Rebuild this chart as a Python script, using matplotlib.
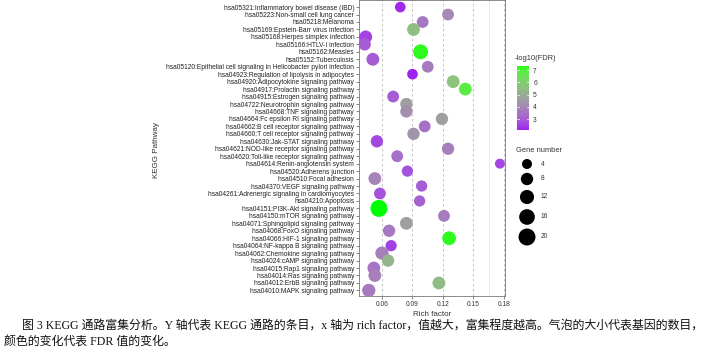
import numpy as np
import matplotlib
matplotlib.use("Agg")
import matplotlib.pyplot as plt
from matplotlib.colors import ListedColormap, Normalize

pathways = [
    "hsa05321:Inflammatory bowel disease (IBD)",
    "hsa05223:Non-small cell lung cancer",
    "hsa05218:Melanoma",
    "hsa05169:Epstein-Barr virus infection",
    "hsa05168:Herpes simplex infection",
    "hsa05166:HTLV-I infection",
    "hsa05162:Measles",
    "hsa05152:Tuberculosis",
    "hsa05120:Epithelial cell signaling in Helicobacter pylori infection",
    "hsa04923:Regulation of lipolysis in adipocytes",
    "hsa04920:Adipocytokine signaling pathway",
    "hsa04917:Prolactin signaling pathway",
    "hsa04915:Estrogen signaling pathway",
    "hsa04722:Neurotrophin signaling pathway",
    "hsa04668:TNF signaling pathway",
    "hsa04664:Fc epsilon RI signaling pathway",
    "hsa04662:B cell receptor signaling pathway",
    "hsa04660:T cell receptor signaling pathway",
    "hsa04630:Jak-STAT signaling pathway",
    "hsa04621:NOD-like receptor signaling pathway",
    "hsa04620:Toll-like receptor signaling pathway",
    "hsa04614:Renin-angiotensin system",
    "hsa04520:Adherens junction",
    "hsa04510:Focal adhesion",
    "hsa04370:VEGF signaling pathway",
    "hsa04261:Adrenergic signaling in cardiomyocytes",
    "hsa04210:Apoptosis",
    "hsa04151:PI3K-Akt signaling pathway",
    "hsa04150:mTOR signaling pathway",
    "hsa04071:Sphingolipid signaling pathway",
    "hsa04068:FoxO signaling pathway",
    "hsa04066:HIF-1 signaling pathway",
    "hsa04064:NF-kappa B signaling pathway",
    "hsa04062:Chemokine signaling pathway",
    "hsa04024:cAMP signaling pathway",
    "hsa04015:Rap1 signaling pathway",
    "hsa04014:Ras signaling pathway",
    "hsa04012:ErbB signaling pathway",
    "hsa04010:MAPK signaling pathway",
]

rich_factor = [0.078, 0.125, 0.100, 0.091, 0.044, 0.043, 0.098, 0.051, 0.105, 0.090,
               0.130, 0.142, 0.071, 0.084, 0.084, 0.119, 0.102, 0.091, 0.055, 0.125,
               0.075, 0.176, 0.085, 0.053, 0.099, 0.058, 0.097, 0.057, 0.121, 0.084,
               0.067, 0.126, 0.069, 0.060, 0.066, 0.052, 0.053, 0.116, 0.047]

gene_number = [5, 7, 7, 9, 9, 8, 14, 9, 7, 5,
               9, 9, 7, 8, 8, 8, 7, 8, 8, 8,
               7, 4, 6, 9, 6, 7, 6, 20, 7, 9,
               8, 11, 6, 10, 8, 9, 9, 9, 10]

neglog_fdr = [2.2, 4.0, 3.6, 5.5, 2.5, 3.0, 7.2, 3.0, 3.7, 2.1,
              5.6, 6.8, 3.0, 4.6, 4.2, 4.6, 3.4, 4.3, 2.6, 3.8,
              3.4, 2.6, 2.8, 3.9, 3.0, 2.8, 3.1, 7.35, 3.7, 4.6,
              3.6, 7.2, 2.5, 3.8, 5.2, 3.5, 3.8, 5.4, 3.7]

x_ticks = [0.06, 0.09, 0.12, 0.15, 0.18]
cbar_ticks = [3, 4, 5, 6, 7]
size_breaks = [4, 8, 12, 16, 20]

caption1 = "图 3 KEGG 通路富集分析。Y 轴代表 KEGG 通路的条目，x 轴为 rich factor，值越大，富集程度越高。气泡的大小代表基因的数目，"
caption2 = "颜色的变化代表 FDR 值的变化。"

# ---- Lab-space gradient (purple -> green), like ggplot's scale_colour_gradient
def _srgb_to_lab(rgb):
    rgb = np.asarray(rgb, float)
    lin = np.where(rgb <= 0.04045, rgb / 12.92, ((rgb + 0.055) / 1.055) ** 2.4)
    M = np.array([[0.4124, 0.3576, 0.1805], [0.2126, 0.7152, 0.0722], [0.0193, 0.1192, 0.9505]])
    xyz = M @ lin / np.array([0.95047, 1.0, 1.08883])
    f = np.where(xyz > 0.008856, np.cbrt(xyz), 7.787 * xyz + 16 / 116)
    return np.array([116 * f[1] - 16, 500 * (f[0] - f[1]), 200 * (f[1] - f[2])])

def _lab_to_srgb(lab):
    L, a, b = lab
    fy_ = (L + 16) / 116
    fx_ = fy_ + a / 500
    fz_ = fy_ - b / 200
    f = np.array([fx_, fy_, fz_])
    xyz = np.where(f ** 3 > 0.008856, f ** 3, (f - 16 / 116) / 7.787) * np.array([0.95047, 1.0, 1.08883])
    Minv = np.array([[3.2406, -1.5372, -0.4986], [-0.9689, 1.8758, 0.0415], [0.0557, -0.2040, 1.0570]])
    lin = np.clip(Minv @ xyz, 0, 1)
    rgb = np.where(lin <= 0.0031308, 12.92 * lin, 1.055 * lin ** (1 / 2.4) - 0.055)
    return np.clip(rgb, 0, 1)

low = _srgb_to_lab(np.array([0xA0, 0x20, 0xF0]) / 255)
high = _srgb_to_lab(np.array([0x00, 0xFF, 0x00]) / 255)
cols = [_lab_to_srgb(low + (high - low) * t) for t in np.linspace(0, 1, 256)]
cmap = ListedColormap(cols)
norm = Normalize(vmin=min(neglog_fdr), vmax=max(neglog_fdr))

DPI = 100
def size_pt2(n):
    d_px = 2.83 * np.sqrt(np.asarray(n, float)) + 4.33
    return (d_px * 72 / DPI) ** 2

W, H = 723, 353
fig = plt.figure(figsize=(W / DPI, H / DPI), dpi=DPI)
fig.patch.set_facecolor("white")
plt.rcParams["font.family"] = ["Liberation Sans", "DejaVu Sans"]

def fx(px): return px / W
def fy(py): return 1 - py / H

# main panel
ax = fig.add_axes([fx(359), fy(296), fx(505) - fx(359), fy(0) - fy(296)])
ypos = np.arange(len(pathways))
ax.scatter(rich_factor, ypos, s=size_pt2(gene_number), c=neglog_fdr, cmap=cmap, norm=norm,
           linewidths=0, zorder=3)
ax.set_xlim(0.0374, 0.1810)
ax.set_ylim(len(pathways) - 1 + 0.75, -0.95)
ax.set_yticks(ypos)
ax.set_yticklabels(pathways, fontsize=4.75, color="#222222")
ax.set_xticks(x_ticks)
ax.set_xticklabels([f"{t:.2f}" for t in x_ticks], fontsize=4.8, color="#333333")
ax.tick_params(axis="both", length=2, width=0.5, color="#555555", pad=1.5)
for t in x_ticks:
    ax.axvline(t, color="#bbbbbb", lw=0.6, ls=(0, (3, 3)), zorder=1)
ax.axvline(0.165, color="#e6e6e6", lw=0.6, zorder=1)
for sp in ax.spines.values():
    sp.set_linewidth(0.6)
    sp.set_color("#777777")
ax.set_xlabel("Rich factor", fontsize=5.8, color="#333333", labelpad=2)
fig.text(fx(157), fy(150), "KEGG Pathway", rotation=90, fontsize=5.8, color="#333333",
         ha="center", va="center")

# colorbar
fig.text(fx(515), fy(58), "-log10(FDR)", fontsize=5.4, color="#333333", ha="left", va="center")
cax = fig.add_axes([fx(517), fy(130), fx(529) - fx(517), fy(66) - fy(130)])
grad = np.linspace(norm.vmin, norm.vmax, 256).reshape(-1, 1)
cax.imshow(grad, aspect="auto", cmap=cmap, norm=norm, origin="lower",
           extent=[0, 1, norm.vmin, norm.vmax])
cax.set_xticks([])
cax.yaxis.tick_right()
cax.set_yticks(cbar_ticks)
cax.set_yticklabels([str(t) for t in cbar_ticks], fontsize=4.8, color="#333333")
cax.tick_params(axis="y", length=0, pad=3)
for t in cbar_ticks:
    cax.plot([0, 0.2], [t, t], color="white", lw=0.5)
    cax.plot([0.8, 1], [t, t], color="white", lw=0.5)
cax.set_xlim(0, 1)
cax.set_ylim(norm.vmin, norm.vmax)
for sp in cax.spines.values():
    sp.set_visible(False)

# size legend
fig.text(fx(516), fy(151), "Gene number", fontsize=5.4, color="#333333", ha="left", va="center")
lax = fig.add_axes([0, 0, 1, 1], facecolor="none")
lax.set_xlim(0, W)
lax.set_ylim(H, 0)
lax.axis("off")
key_y = [164, 179, 197, 217, 237]
lax.scatter([527] * len(size_breaks), key_y, s=size_pt2(size_breaks), c="black", linewidths=0)
for yv, b in zip(key_y, size_breaks):
    lax.text(541, yv, str(b), fontsize=4.8, color="#333333", ha="left", va="center")

# caption
cap_font = ["Liberation Serif", "Noto Sans CJK SC"]
fig.text(fx(22), fy(326), caption1, fontsize=8.6, family=cap_font, color="#111111",
         ha="left", va="center")
fig.text(fx(4), fy(343), caption2, fontsize=8.6, family=cap_font, color="#111111",
         ha="left", va="center")

fig.savefig("out.png", dpi=DPI)
